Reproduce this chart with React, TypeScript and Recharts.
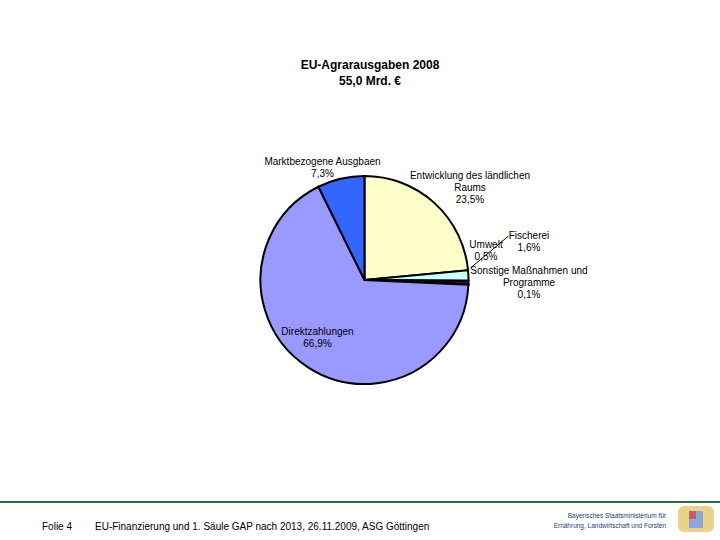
import React from 'react';
import { PieChart, Pie, Cell } from 'recharts';

const categories = [
  'Entwicklung des ländlichen Raums',
  'Fischerei',
  'Umwelt',
  'Sonstige Maßnahmen und Programme',
  'Direktzahlungen',
  'Marktbezogene Ausgbaen',
];
const values = [23.5, 1.6, 0.5, 0.1, 66.9, 7.3];
const valueLabels = ['23,5%', '1,6%', '0,5%', '0,1%', '66,9%', '7,3%'];
const labelLines: string[][] = [
  ['Entwicklung des ländlichen', 'Raums', '23,5%'],
  ['Fischerei', '1,6%'],
  ['Umwelt', '0,5%'],
  ['Sonstige Maßnahmen und', 'Programme', '0,1%'],
  ['Direktzahlungen', '66,9%'],
  ['Marktbezogene Ausgbaen', '7,3%'],
];
const colors = ['#FFFFCC', '#CCFFFF', '#660066', '#FF8080', '#9999FF', '#3366FF'];

// label placement offsets relative to pie centre
const labelOffsets = [
  { dx: 105.5, dy: -105 },
  { dx: 164.5, dy: -45 },
  { dx: 121.5, dy: -36 },
  { dx: 164.5, dy: -10 },
  { dx: -47, dy: 51 },
  { dx: -42, dy: -119 },
];

const data = categories.map((name, i) => ({ name, value: values[i], pct: valueLabels[i] }));

const FONT = 'Arial, "Liberation Sans", sans-serif';

const renderLabel = (props: any) => {
  const { cx, cy, index } = props;
  const off = labelOffsets[index];
  const lines = labelLines[index];
  const x = cx + off.dx;
  const y0 = cy + off.dy;
  return (
    <g key={`lbl-${index}`}>
      {index === 1 && (
        <line x1={cx + 144} y1={cy - 44} x2={cx + 106} y2={cy - 12} stroke="#000" strokeWidth={1} />
      )}
      {lines.map((t, j) => (
        <text
          key={j}
          x={x}
          y={y0 + j * 12}
          textAnchor="middle"
          dominantBaseline="central"
          fontFamily={FONT}
          fontSize={10}
          fill="#000"
        >
          {t}
        </text>
      ))}
    </g>
  );
};

export default function App() {
  return (
    <div style={{ position: 'absolute', left: 0, top: 0, width: 720, height: 540, background: '#fff' }}>
      <div
        style={{
          position: 'absolute',
          left: 0,
          width: 740,
          top: 57,
          textAlign: 'center',
          fontFamily: FONT,
          fontWeight: 'bold',
          fontSize: 12,
          lineHeight: '16px',
          color: '#000',
        }}
      >
        <div>EU-Agrarausgaben 2008</div>
        <div>55,0 Mrd. €</div>
      </div>
      <div style={{ position: 'absolute', left: 0, top: 0 }}>
        <PieChart width={720} height={540} margin={{ top: 0, right: 0, bottom: 0, left: 0 }}>
          <Pie
            data={data}
            dataKey="value"
            nameKey="name"
            cx={364.5}
            cy={280}
            outerRadius={104}
            startAngle={90}
            endAngle={-270}
            stroke="#000"
            strokeWidth={2}
            isAnimationActive={false}
            label={renderLabel}
            labelLine={false}
          >
            {data.map((d, i) => (
              <Cell key={d.name} fill={colors[i]} />
            ))}
          </Pie>
        </PieChart>
      </div>
      <div style={{ position: 'absolute', left: 0, top: 501, width: 720, height: 2, background: '#2F6B3F' }} />
      <div style={{ position: 'absolute', left: 42, top: 521, fontFamily: FONT, fontSize: 10, color: '#000' }}>
        Folie 4
      </div>
      <div style={{ position: 'absolute', left: 95, top: 521, fontFamily: FONT, fontSize: 10, color: '#000' }}>
        EU-Finanzierung und 1. Säule GAP nach 2013, 26.11.2009, ASG Göttingen
      </div>
      <div
        style={{
          position: 'absolute',
          left: 530,
          width: 136,
          top: 511,
          textAlign: 'right',
          fontFamily: FONT,
          fontSize: 6.5,
          lineHeight: '10px',
          color: '#1F3A6E',
        }}
      >
        <div>Bayerisches Staatsministerium für</div>
        <div>Ernährung, Landwirtschaft und Forsten</div>
      </div>
      <div style={{ position: 'absolute', left: 678, top: 506, width: 36, height: 26 }}>
        <div style={{ position: 'absolute', left: 0, top: 0, width: 36, height: 26, background: '#E8D38A', borderRadius: 6 }} />
        <div style={{ position: 'absolute', left: 11, top: 5, width: 14, height: 17, background: '#8FA8D8' }} />
        <div style={{ position: 'absolute', left: 11, top: 5, width: 7, height: 8, background: '#C06060' }} />
      </div>
    </div>
  );
}
